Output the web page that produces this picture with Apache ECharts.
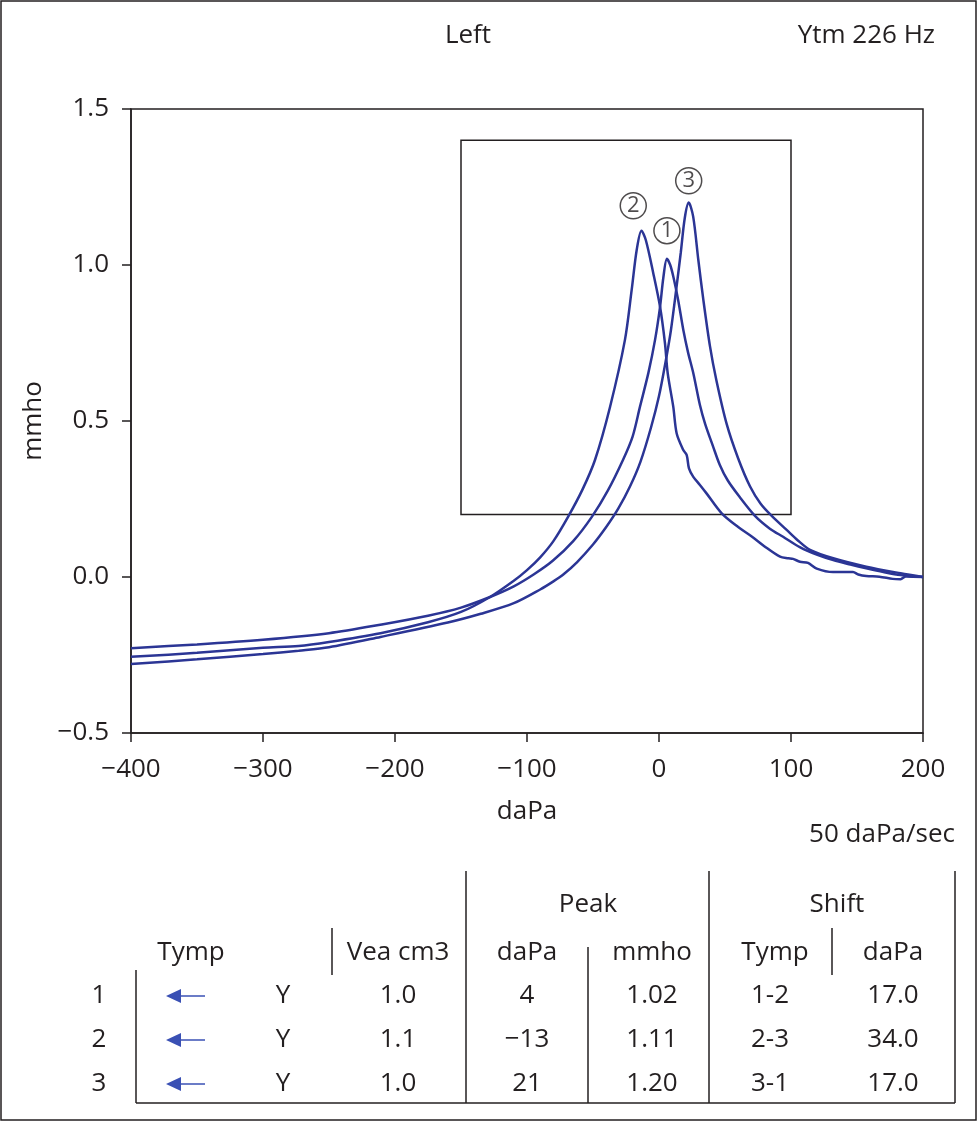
<!DOCTYPE html>
<html><head><meta charset="utf-8">
<script src="https://cdn.jsdelivr.net/npm/echarts@6/dist/echarts.min.js"></script>
<style>html,body{margin:0;padding:0;background:#fff}#c{width:977px;height:1122px}</style>
</head><body><div id="c"></div>
<script>
// ---- data ----
const tymp1 = [[-400,-0.228],[-350,-0.216],[-300,-0.201],[-250,-0.180],[-210,-0.152],[-175,-0.124],[-150,-0.098],[-128,-0.064],[-110,-0.030],[-95,0.008],[-80.5,0.052],[-65,0.115],[-51,0.192],[-39,0.275],[-27.3,0.375],[-20,0.45],[-14.4,0.546],[-8,0.655],[-3,0.76],[0.8,0.866],[3.3,0.96],[6,1.02],[8.5,1.0],[11,0.96],[14.5,0.888],[18.5,0.79],[22,0.72],[26,0.653],[31,0.551],[35,0.49],[41,0.418],[46,0.36],[52,0.31],[61,0.257],[72.7,0.196],[84,0.155],[94,0.129],[107,0.095],[120,0.071],[132,0.054],[145,0.04],[157,0.028],[170,0.016],[183,0.006],[200,0]];
const tymp2 = [[-400,-0.256],[-350,-0.243],[-300,-0.227],[-273,-0.221],[-250,-0.208],[-211,-0.180],[-175,-0.145],[-150,-0.112],[-128,-0.064],[-110,-0.012],[-100,0.022],[-90,0.063],[-80,0.115],[-69,0.192],[-58,0.28],[-48.5,0.375],[-37.1,0.545],[-25.8,0.76],[-20.7,0.92],[-16.9,1.048],[-13.3,1.11],[-10,1.08],[-4.3,0.973],[0.8,0.866],[4.5,0.75],[6.6,0.653],[10.8,0.546],[13.4,0.46],[18.4,0.407],[21,0.391],[22.7,0.348],[26,0.321],[31,0.295],[36,0.268],[47.5,0.204],[60,0.16],[70.5,0.129],[80,0.098],[91.7,0.065],[98,0.06],[101.5,0.058],[106.8,0.049],[112.9,0.045],[119.5,0.027],[131.8,0.016],[147,0.016],[151,0.008],[157,0.003],[167,0.001],[177,-0.006],[183,-0.007],[187,0.002],[200,0]];
const tymp3 = [[-400,-0.279],[-350,-0.264],[-300,-0.247],[-273,-0.236],[-250,-0.225],[-211,-0.192],[-160,-0.146],[-135,-0.118],[-110,-0.084],[-90,-0.040],[-80,-0.014],[-72.5,0.008],[-62,0.048],[-50,0.104],[-40,0.16],[-31,0.218],[-22,0.29],[-14,0.37],[-6,0.48],[0,0.58],[5,0.69],[9,0.79],[13,0.92],[16.5,1.04],[19.5,1.15],[22.5,1.2],[25.9,1.155],[29.8,1.016],[33.6,0.888],[38.6,0.74],[43.5,0.63],[51.3,0.49],[60,0.38],[69,0.29],[77,0.235],[85.4,0.196],[96.7,0.151],[105,0.118],[114.4,0.087],[132,0.06],[157,0.033],[183,0.012],[200,0]];
const curveLabels = ['2','1','3'];
const curveLabelPoints = [[-19.5,1.19],[6,1.11],[22.5,1.27]];
const zoomBox = [-150,1.4,100,0.2];
const xTicks = {min:-400,max:200,interval:100};
const yTicks = {min:-0.5,max:1.5,interval:0.5};

const tableTymp = ['1','2','3'];
const tableFlag = ['Y','Y','Y'];
const tableVea = ['1.0','1.1','1.0'];
const tablePeakDaPa = ['4','\u221213','21'];
const tablePeakMmho = ['1.02','1.11','1.20'];
const tableShiftTymp = ['1-2','2-3','3-1'];
const tableShiftDaPa = ['17.0','34.0','17.0'];

// ---- rendering ----
const INK = '#231f20', CURVE = '#2b3595', ARROW = '#3a50b4';
const FONT = '"Open Sans", "Noto Sans", sans-serif';
const fs = 26;
const minus = v => (v < 0 ? '\u2212' : '') + Math.abs(v);
function txt(x, y, s, align) {
  return {type:'text', x:x, y:y, z:10, style:{text:s, fill:INK, font: fs+'px '+FONT, textAlign: align||'center', textVerticalAlign:'middle'}};
}
function ln(x1,y1,x2,y2){ return {type:'line', z:10, shape:{x1,y1,x2,y2}, style:{stroke:INK, lineWidth:1.5}}; }

const g = [];
g.push({type:'rect', shape:{x:1,y:1,width:975,height:1119}, style:{fill:'none', stroke:INK, lineWidth:1.5}});
g.push(txt(468,36,'Left'));
g.push(txt(935,36,'Ytm 226 Hz','right'));
g.push(txt(955,835,'50 daPa/sec','right'));
// table lines
g.push(ln(466,871,466,1103), ln(709,871,709,1103), ln(955,871,955,1103));
g.push(ln(136,970,136,1103), ln(136,1103,955,1103));
g.push(ln(332,928,332,975), ln(588,947,588,1103), ln(832,928,832,975));
// headers
g.push(txt(588,905,'Peak'), txt(837,905,'Shift'));
g.push(txt(191,953,'Tymp'), txt(398,953,'Vea cm3'), txt(527,953,'daPa'), txt(652,953,'mmho'), txt(775,953,'Tymp'), txt(893,953,'daPa'));
const rowY = [996,1040,1084];
for (let i=0;i<tableTymp.length;i++){
  const y = rowY[i];
  g.push(txt(99,y,tableTymp[i]));
  g.push({type:'polygon', z:10, shape:{points:[[166,y],[181,y-7],[181,y+7]]}, style:{fill:ARROW}});
  g.push({type:'line', z:10, shape:{x1:178,y1:y,x2:205,y2:y}, style:{stroke:ARROW, lineWidth:1.5}});
  g.push(txt(283,y,tableFlag[i]));
  g.push(txt(398,y,tableVea[i]));
  g.push(txt(527,y,tablePeakDaPa[i]));
  g.push(txt(652,y,tablePeakMmho[i]));
  g.push(txt(770,y,tableShiftTymp[i]));
  g.push(txt(893,y,tableShiftDaPa[i]));
}

const lineSeries = (d) => ({type:'line', data:d, showSymbol:false, smooth:0.3, lineStyle:{color:CURVE, width:2.5}, z:3, silent:true});

const chart = echarts.init(document.getElementById('c'), null, {renderer:'canvas'});
chart.setOption({
  animation:false,
  backgroundColor:'#fff',
  textStyle:{fontFamily:FONT},
  grid:{left:131, right:54, top:109, bottom:389, show:true, borderColor:INK, borderWidth:1.5, backgroundColor:'transparent'},
  xAxis:{type:'value', min:xTicks.min, max:xTicks.max, interval:xTicks.interval,
    name:'daPa', nameLocation:'middle', nameGap:66, nameTextStyle:{fontSize:fs, color:INK, fontFamily:FONT},
    axisLine:{onZero:false, lineStyle:{color:INK, width:1.5}}, axisTick:{length:9, lineStyle:{color:INK, width:1.5}},
    axisLabel:{fontSize:fs, color:INK, margin:24, formatter:v=>minus(v), fontFamily:FONT}, splitLine:{show:false}},
  yAxis:{type:'value', min:yTicks.min, max:yTicks.max, interval:yTicks.interval,
    name:'mmho', nameLocation:'middle', nameGap:78, nameRotate:90, nameTextStyle:{fontSize:fs, color:INK, fontFamily:FONT},
    axisLine:{onZero:false, lineStyle:{color:INK, width:1.5}}, axisTick:{length:9, lineStyle:{color:INK, width:1.5}},
    axisLabel:{fontSize:fs, color:INK, margin:22, formatter:v=>(v<0?'\u2212':'')+Math.abs(v).toFixed(1), fontFamily:FONT}, splitLine:{show:false}},
  series:[
    Object.assign(lineSeries(tymp1), {markArea:{silent:true, itemStyle:{color:'rgba(0,0,0,0)', borderColor:INK, borderWidth:1.5}, data:[[{coord:[zoomBox[0],zoomBox[1]]},{coord:[zoomBox[2],zoomBox[3]]}]]}}),
    lineSeries(tymp2),
    lineSeries(tymp3),
    {type:'scatter', data:curveLabelPoints, symbol:'circle', symbolSize:26, z:5, silent:true,
      itemStyle:{color:'#fff', borderColor:INK, borderWidth:1.5},
      label:{show:true, position:'inside', formatter:p=>curveLabels[p.dataIndex], fontSize:22, color:INK, textBorderWidth:0, fontFamily:FONT}}
  ],
  graphic:g
});
</script></body></html>
